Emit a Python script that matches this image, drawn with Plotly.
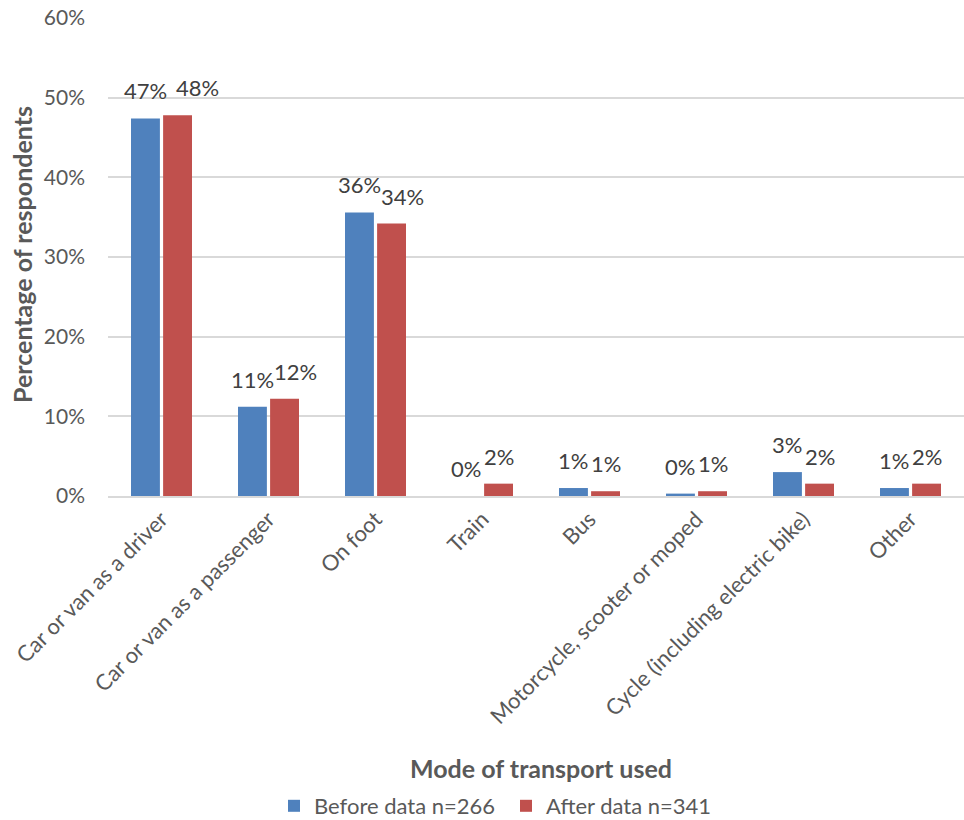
import plotly.graph_objects as go

categories = ["Car or van as a driver", "Car or van as a passenger", "On foot", "Train", "Bus",
              "Motorcycle, scooter or moped", "Cycle (including electric bike)", "Other"]
before_vals = [0.474, 0.112, 0.356, 0.0, 0.010, 0.003, 0.030, 0.010]
after_vals = [0.478, 0.122, 0.342, 0.0155, 0.006, 0.006, 0.0155, 0.0155]
series_names = ["Before data n=266", "After data n=341"]
y_ticks = [0, 0.1, 0.2, 0.3, 0.4, 0.5, 0.6]

FONT = "Lato, Carlito, Calibri, sans-serif"
W, H = 964, 820
ML, MR, MT, MB = 108, 0, 18, 324
BARGAP, GROUPGAP = 0.4, 0.1
YMAX = 0.6
LABEL_SIZE = 22

plot_w = W - ML - MR
plot_h = H - MT - MB
cat_w = plot_w / len(categories)
slot_w = cat_w * (1 - BARGAP) / 2
px_per_unit = plot_h / YMAX


def pct(v):
    return f"{int(v * 100 + 0.5)}%"


fig = go.Figure()
colors = ["#4F81BD", "#C0504D"]
for name, vals, col in zip(series_names, [before_vals, after_vals], colors):
    fig.add_trace(go.Bar(x=categories, y=vals, name=name, marker_color=col,
                         marker_line_width=0, hoverinfo="x+y"))

annotations = []
for cat, b, a in zip(categories, before_vals, after_vals):
    # data labels above each bar; shift the second label right when the pair would collide
    dy = abs(b - a) * px_per_unit
    close = dy < 20 and len(pct(b)) + len(pct(a)) >= 6
    extra = (20 if dy < 5 else 11) if close else 0
    for v, base_shift in [(b, -slot_w / 2), (a, slot_w / 2 + extra)]:
        annotations.append(dict(
            x=cat, y=v, xref="x", yref="y", text=pct(v), showarrow=False,
            xanchor="center", yanchor="bottom", xshift=base_shift, yshift=12,
            font=dict(size=LABEL_SIZE, color="#404040", family=FONT)))

annotations += [
    dict(text="<b>Mode of transport used</b>", xref="paper", yref="paper", x=0.5,
         y=(H - MB - 768) / plot_h, xanchor="center", yanchor="middle", showarrow=False,
         xshift=(541 - (ML + plot_w / 2)),
         font=dict(size=25, color="#595959", family=FONT)),
    dict(text="<b>Percentage of respondents</b>", xref="paper", yref="paper",
         x=(22 - ML) / plot_w, y=(H - MB - 255) / plot_h, xanchor="center", yanchor="middle",
         textangle=-90, showarrow=False, font=dict(size=25, color="#595959", family=FONT)),
]

fig.update_layout(
    width=W, height=H,
    margin=dict(l=ML, r=MR, t=MT, b=MB, autoexpand=False),
    paper_bgcolor="white", plot_bgcolor="white",
    font=dict(family=FONT, color="#595959", size=21),
    barmode="group", bargap=BARGAP, bargroupgap=GROUPGAP,
    showlegend=True,
    legend=dict(orientation="h", x=(274 - ML) / plot_w, xanchor="left",
                y=(H - MB - 806) / plot_h, yanchor="middle",
                font=dict(size=22, color="#595959", family=FONT), traceorder="normal",
                itemwidth=30, entrywidth=187, entrywidthmode="pixels"),
    xaxis=dict(tickangle=-45, tickfont=dict(size=22, color="#595959"), showline=True,
               linecolor="#D9D9D9", linewidth=1.5, ticks="", automargin=False),
    yaxis=dict(range=[0, YMAX], tickvals=y_ticks, tickformat=".0%", showgrid=True,
               gridcolor="#D9D9D9", gridwidth=1.5, zeroline=False, automargin=False,
               tickfont=dict(size=21, color="#595959"), ticklabelstandoff=22),
    annotations=annotations,
)

fig.write_html("out.html", config={"displayModeBar": False},
               post_script="document.body.style.margin='0';")
